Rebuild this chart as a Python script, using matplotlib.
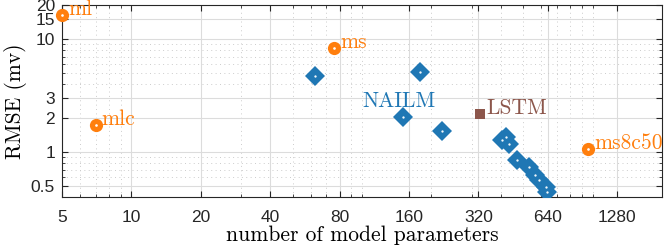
import numpy as np
import matplotlib
matplotlib.use("Agg")
import matplotlib.pyplot as plt
from matplotlib.ticker import FixedLocator, FixedFormatter, LogLocator, NullFormatter

# orange baselines (labelled)
base_names = ["ml", "mlc", "ms", "ms8c50"]
base_params = [5, 7, 75.6, 958]
base_rmse = [16.2, 1.74, 8.3, 1.06]

# NAILM models
nailm_params = [62.3, 150, 179, 223, 406, 423, 436, 472, 531, 560, 588, 630, 637]
nailm_rmse = [4.66, 2.06, 5.1, 1.55, 1.28, 1.36, 1.18, 0.85, 0.74, 0.63, 0.565, 0.49, 0.44]

# LSTM
lstm_params = [326]
lstm_rmse = [2.19]

xticks = [5, 10, 20, 40, 80, 160, 320, 640, 1280]
yticks = [0.5, 1, 2, 3, 10, 15, 20]

c_orange = "#ff7f0e"
c_blue = "#1f77b4"
c_brown = "#8c564b"
serif = "cmr10"
tickfont = "Liberation Sans"

fig = plt.figure(figsize=(6.64, 2.52), dpi=100)
ax = fig.add_axes([62 / 664, 1 - 197 / 252, 600 / 664, 192 / 252])
ax.set_xscale("log")
ax.set_yscale("log")
ax.set_xlim(5, 2000)
ax.set_ylim(0.4, 20)

ax.plot(nailm_params, nailm_rmse, "D", color=c_blue, ms=10.5, mew=0, zorder=3)
ax.plot(nailm_params, nailm_rmse, ".", color="white", ms=1.3, zorder=4)
ax.plot(base_params, base_rmse, "o", color=c_orange, ms=9.5, mew=0, zorder=3, clip_on=False)
ax.plot(base_params, base_rmse, ".", color="white", ms=1.8, zorder=4, clip_on=False)
ax.plot(lstm_params, lstm_rmse, "s", color=c_brown, ms=7.8, mew=0, zorder=3)

for n, x, y in zip(base_names, base_params, base_rmse):
    ax.annotate(n, (x, y), xytext=(4.3, 0), textcoords="offset points",
                color=c_orange, fontfamily=serif, fontsize=15.5,
                ha="left", va="baseline", annotation_clip=False)
ax.annotate("LSTM", (lstm_params[0], lstm_rmse[0]), xytext=(4.3, 0),
            textcoords="offset points", color=c_brown, fontfamily=serif,
            fontsize=15.5, ha="left", va="baseline")
ax.text(100, 2.48, "NAILM", color=c_blue, fontfamily=serif, fontsize=15.5,
        ha="left", va="baseline")

ax.xaxis.set_major_locator(FixedLocator(xticks))
ax.xaxis.set_major_formatter(FixedFormatter([str(t) for t in xticks]))
ax.xaxis.set_minor_locator(LogLocator(base=10, subs=np.arange(1, 10), numticks=50))
ax.xaxis.set_minor_formatter(NullFormatter())
ax.yaxis.set_major_locator(FixedLocator(yticks))
ax.yaxis.set_major_formatter(FixedFormatter([str(t) for t in yticks]))
ax.yaxis.set_minor_locator(LogLocator(base=10, subs=np.arange(1, 10), numticks=50))
ax.yaxis.set_minor_formatter(NullFormatter())

ax.grid(which="major", color="#dcdcdc", lw=0.8, ls="-")
ax.grid(which="minor", color="#cccccc", lw=0.7, ls=(0, (1, 3.5)))
ax.set_axisbelow(True)

ax.tick_params(which="both", direction="in", top=True, right=True, color="#262626")
ax.tick_params(which="major", length=4.5, width=0.8)
ax.tick_params(which="minor", length=2, width=0.6)
ax.tick_params(axis="x", pad=9)
ax.tick_params(axis="y", pad=5)
for lab in ax.get_xticklabels() + ax.get_yticklabels():
    lab.set_fontfamily(tickfont)
    lab.set_fontsize(12.5)
    lab.set_color("#262626")
for s in ax.spines.values():
    s.set_color("#262626")
    s.set_linewidth(0.8)

ax.set_xlabel("number of model parameters", fontfamily=serif, fontsize=15.5, labelpad=1)
ax.set_ylabel("RMSE (mv)", fontfamily=serif, fontsize=15.5, labelpad=3)

fig.savefig("out.png", dpi=100)
